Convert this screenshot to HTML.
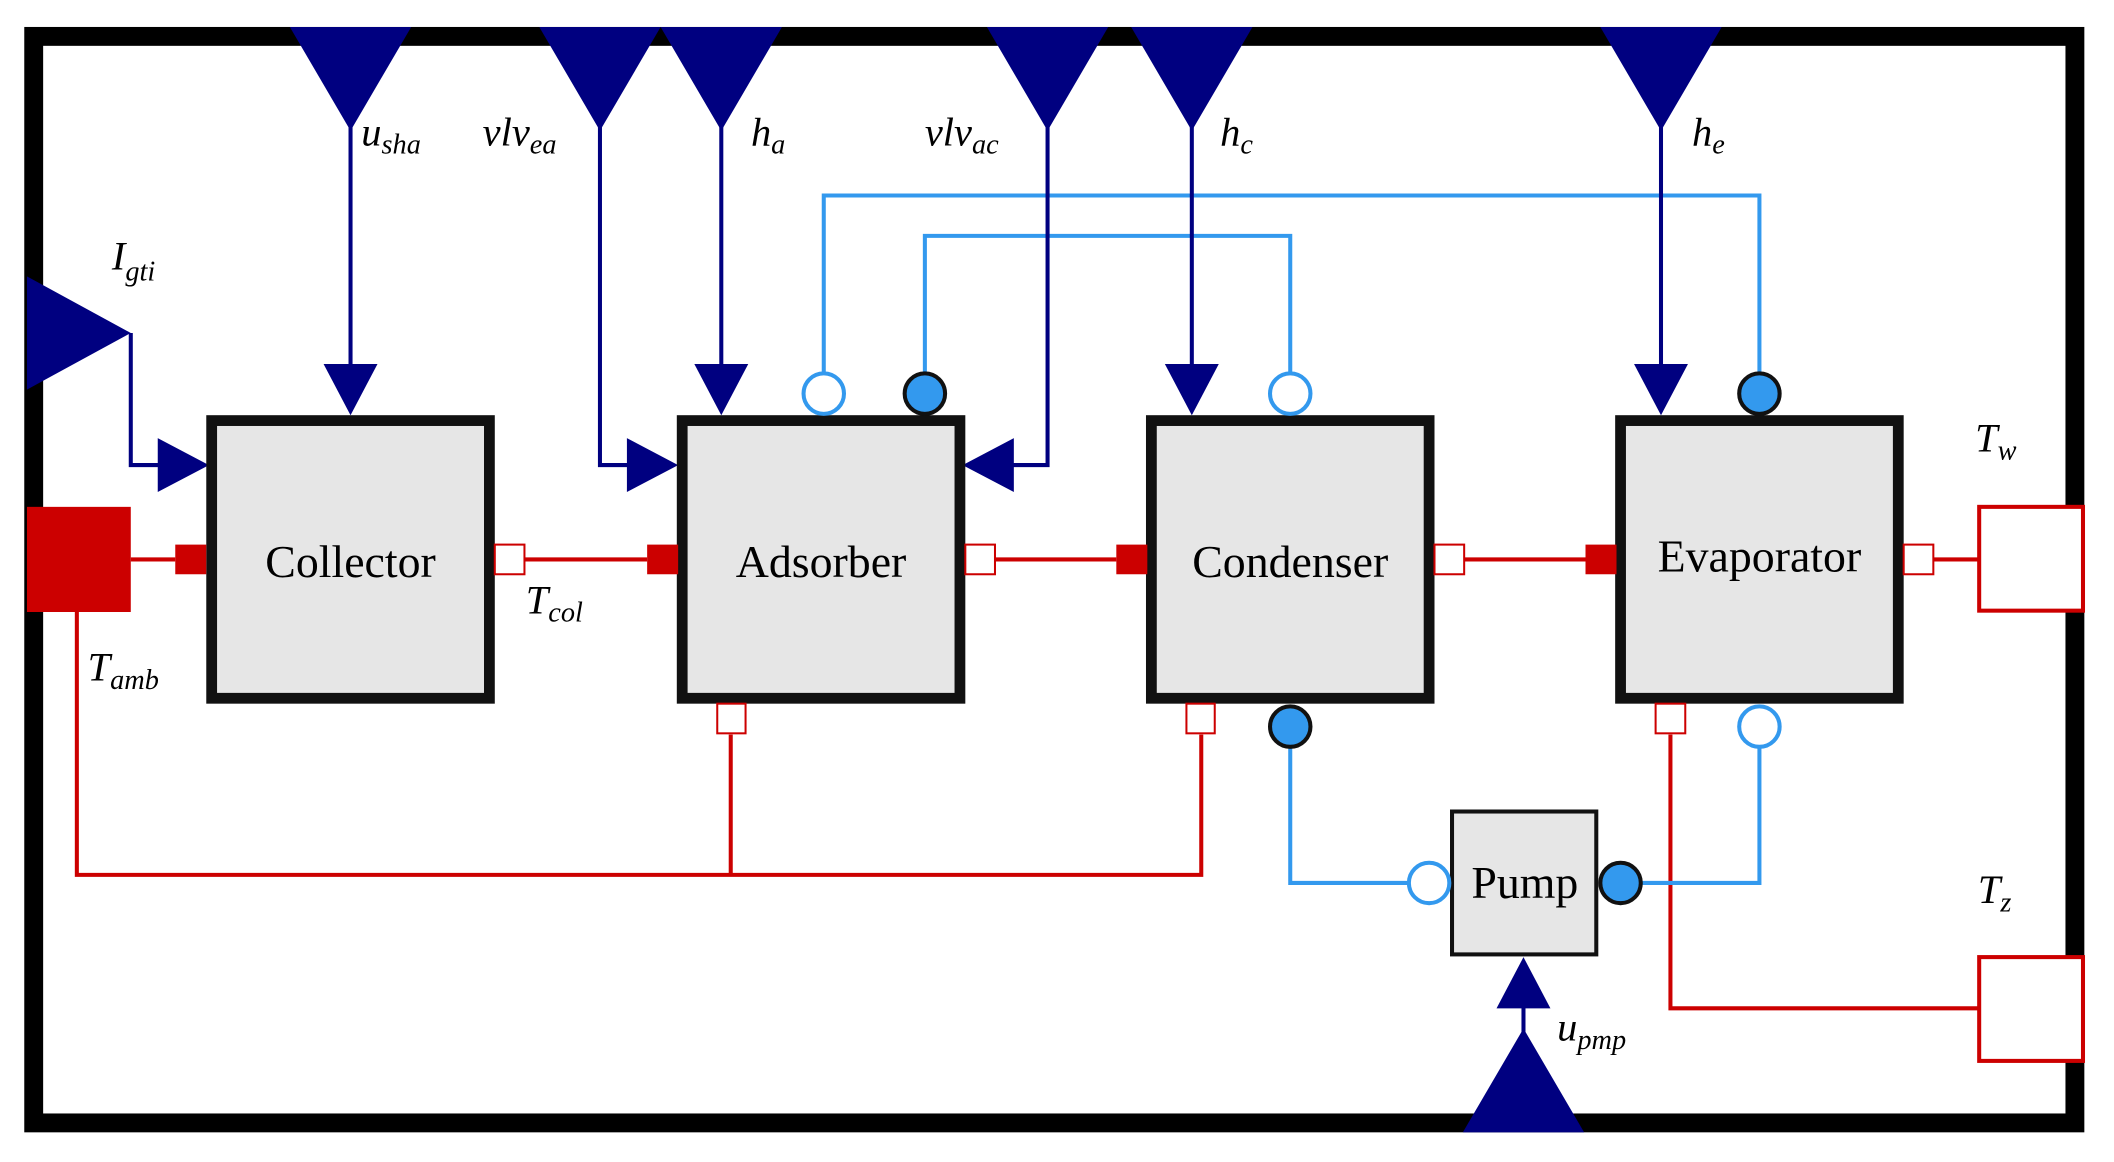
<!DOCTYPE html>
<html><head><style>html,body{margin:0;padding:0;background:#fff}svg{display:block}
text{font-family:"Liberation Serif",serif}</style></head><body>
<svg width="2114" height="1162" viewBox="0 0 1568 862" preserveAspectRatio="none" xmlns="http://www.w3.org/2000/svg">
<rect x="0" y="0" width="1568" height="862" fill="#fff"/>
<rect x="25" y="27" width="1514" height="806" fill="none" stroke="#000" stroke-width="14"/>
<!-- red connections -->
<g stroke="#cc0000" stroke-width="3" fill="none">
<polyline points="57,454 57,649 891,649 891,545"/>
<line x1="542" y1="649" x2="542" y2="545"/>
<line x1="97" y1="415" x2="130" y2="415"/>
<line x1="389" y1="415" x2="480" y2="415"/>
<line x1="738" y1="415" x2="828" y2="415"/>
<line x1="1086" y1="415" x2="1176" y2="415"/>
<line x1="1434" y1="415" x2="1468" y2="415"/>
<polyline points="1239,545 1239,748 1468,748"/>
</g>
<!-- blue connections -->
<g stroke="#3399ee" stroke-width="3" fill="none">
<polyline points="611,277 611,145 1305,145 1305,277"/>
<polyline points="686,277 686,175 957,175 957,277"/>
<polyline points="957,554 957,655 1045,655"/>
<polyline points="1217,655 1305,655 1305,554"/>
</g>
<!-- navy lines -->
<g stroke="#000080" stroke-width="3" fill="none">
<line x1="260" y1="90" x2="260" y2="272"/>
<polyline points="445,90 445,345 467,345"/>
<line x1="535" y1="90" x2="535" y2="272"/>
<polyline points="777,90 777,345 750,345"/>
<line x1="884" y1="90" x2="884" y2="272"/>
<line x1="1232" y1="90" x2="1232" y2="272"/>
<polyline points="97,247 97,345 119,345"/>
<line x1="1130" y1="770" x2="1130" y2="745"/>
</g>
<g fill="#000080">
<polygon points="215,20 305,20 260,97"/>
<polygon points="400,20 490,20 445,97"/>
<polygon points="490,20 580,20 535,97"/>
<polygon points="732,20 822,20 777,97"/>
<polygon points="839,20 929,20 884,97"/>
<polygon points="1187,20 1277,20 1232,97"/>
<polygon points="20,205 97,247 20,289"/>
<polygon points="1085,840 1175,840 1130,763"/>
<polygon points="240,270 280,270 260,308"/>
<polygon points="515,270 555,270 535,308"/>
<polygon points="864,270 904,270 884,308"/>
<polygon points="1212,270 1252,270 1232,308"/>
<polygon points="117,325 155,345 117,365"/>
<polygon points="465,325 503,345 465,365"/>
<polygon points="752,325 714,345 752,365"/>
<polygon points="1110,748 1150,748 1130,710"/>
</g>
<!-- boxes -->
<g fill="#e6e6e6" stroke="#111" stroke-width="8">
<rect x="157" y="312" width="206" height="206"/>
<rect x="506" y="312" width="206" height="206"/>
<rect x="854" y="312" width="206" height="206"/>
<rect x="1202" y="312" width="206" height="206"/>
</g>
<rect x="1077" y="602" width="107" height="106" fill="#e6e6e6" stroke="#111" stroke-width="3"/>
<g font-size="34" text-anchor="middle" fill="#000">
<text x="260" y="428">Collector</text>
<text x="609" y="428">Adsorber</text>
<text x="957" y="428">Condenser</text>
<text x="1305" y="424">Evaporator</text>
<text x="1131" y="666">Pump</text>
</g>
<!-- red ports -->
<rect x="20" y="376" width="77" height="78" fill="#cc0000"/>
<g fill="#cc0000">
<rect x="130" y="404" width="23" height="22"/>
<rect x="480" y="404" width="23" height="22"/>
<rect x="828" y="404" width="23" height="22"/>
<rect x="1176" y="404" width="23" height="22"/>
</g>
<g fill="#fff" stroke="#cc0000" stroke-width="1.5">
<rect x="367" y="404" width="22" height="22"/>
<rect x="716" y="404" width="22" height="22"/>
<rect x="1064" y="404" width="22" height="22"/>
<rect x="1412" y="404" width="22" height="22"/>
<rect x="532" y="522" width="21" height="22"/>
<rect x="880" y="522" width="21" height="22"/>
<rect x="1228" y="522" width="22" height="22"/>
</g>
<g fill="#fff" stroke="#cc0000" stroke-width="3">
<rect x="1468" y="376" width="77" height="77"/>
<rect x="1468" y="710" width="77" height="77"/>
</g>
<!-- blue ports -->
<g fill="#fff" stroke="#3399ee" stroke-width="3">
<circle cx="611" cy="292" r="15"/>
<circle cx="957" cy="292" r="15"/>
<circle cx="1305" cy="539" r="15"/>
<circle cx="1060" cy="655" r="15"/>
</g>
<g fill="#3399ee" stroke="#111" stroke-width="3">
<circle cx="686" cy="292" r="15"/>
<circle cx="1305" cy="292" r="15"/>
<circle cx="957" cy="539" r="15"/>
<circle cx="1202" cy="655" r="15"/>
</g>
<!-- labels -->
<g font-size="30" font-style="italic" fill="#000">
<text x="268" y="108">u<tspan font-size="21" dy="6">sha</tspan></text>
<text x="358" y="108">vlv<tspan font-size="21" dy="6">ea</tspan></text>
<text x="557" y="108">h<tspan font-size="21" dy="6">a</tspan></text>
<text x="686" y="108">vlv<tspan font-size="21" dy="6">ac</tspan></text>
<text x="905" y="108">h<tspan font-size="21" dy="6">c</tspan></text>
<text x="1255" y="108">h<tspan font-size="21" dy="6">e</tspan></text>
<text x="83" y="200">I<tspan font-size="21" dy="8">gti</tspan></text>
<text x="390" y="455">T<tspan font-size="21" dy="6">col</tspan></text>
<text x="65" y="505">T<tspan font-size="21" dy="6">amb</tspan></text>
<text x="1465" y="335">T<tspan font-size="21" dy="6">w</tspan></text>
<text x="1467" y="670">T<tspan font-size="21" dy="6">z</tspan></text>
<text x="1155" y="772">u<tspan font-size="21" dy="6">pmp</tspan></text>
</g>
</svg>
</body></html>
